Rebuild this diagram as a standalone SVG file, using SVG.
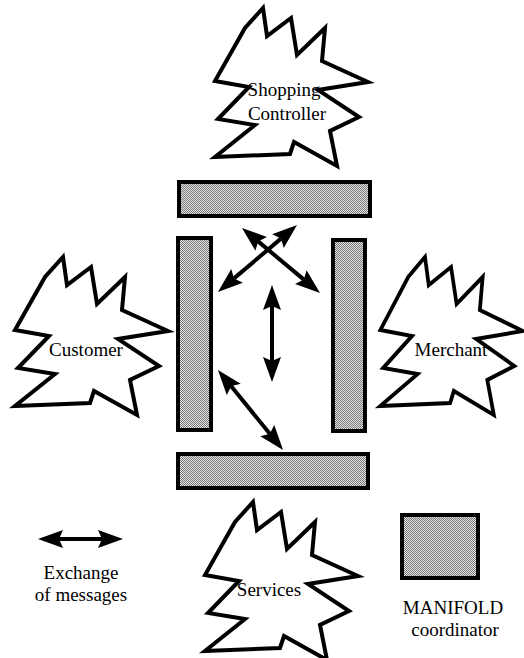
<svg xmlns="http://www.w3.org/2000/svg" xmlns:xlink="http://www.w3.org/1999/xlink" width="524" height="658" viewBox="0 0 524 658">
<style>
.star{fill:#fff;stroke:#000;stroke-width:4;stroke-linejoin:miter;stroke-miterlimit:10}
.bar{fill:url(#dither);stroke:#000;stroke-width:4}
.lbl{font-family:"Liberation Serif","Times New Roman","DejaVu Serif",serif;font-size:19px;fill:#000;text-anchor:middle}
.arr{stroke:#000;stroke-width:4;fill:none;marker-start:url(#head);marker-end:url(#head)}
</style>
<defs>
<pattern id="dither" width="2" height="2" patternUnits="userSpaceOnUse">
<rect width="2" height="2" fill="#e2e2e2"/>
<rect width="1" height="1" fill="#7a7a7a"/>
<rect x="1" y="1" width="1" height="1" fill="#7a7a7a"/>
</pattern>
<path id="starShape" d="M0,0 L4,28 L28,10 L34,47 L62,20 L59,53 L105,74 L55,82 L96,109 L67,123 L74,158 L31,134 L27,146 L-48,149 L-8,117 L-45,111 L-14,79 L-48,73 L-18,20 Z"/>
<marker id="head" markerUnits="userSpaceOnUse" markerWidth="30" markerHeight="22" viewBox="0 -11 30 22" refX="4" refY="0" orient="auto-start-reverse" overflow="visible">
<path d="M0,-9 L25,0 L0,9 L4,0 Z" fill="#000"/>
</marker>
</defs>
<rect width="524" height="658" fill="#fff"/>

<g id="shopping-controller">
<use xlink:href="#starShape" href="#starShape" class="star" transform="translate(263,8)"/>
<text class="lbl" x="284" y="96">Shopping</text>
<text class="lbl" x="287" y="120">Controller</text>
</g>

<g id="customer">
<use xlink:href="#starShape" href="#starShape" class="star" transform="translate(63,257)"/>
<text class="lbl" x="86" y="356">Customer</text>
</g>

<g id="merchant">
<use xlink:href="#starShape" href="#starShape" class="star" transform="translate(425,257) scale(0.93,1)"/>
<text class="lbl" x="451" y="356">Merchant</text>
</g>

<g id="services">
<use xlink:href="#starShape" href="#starShape" class="star" transform="translate(253,502)"/>
<text class="lbl" x="269" y="596">Services</text>
</g>

<g id="coordinator-top"><rect class="bar" x="179" y="182" width="191" height="34"/></g>
<g id="coordinator-left"><rect class="bar" x="178" y="238" width="33" height="192"/></g>
<g id="coordinator-right"><rect class="bar" x="333" y="240" width="32" height="191"/></g>
<g id="coordinator-bottom"><rect class="bar" x="178" y="454" width="190" height="34"/></g>

<g id="connectors">
<line class="arr" x1="234" y1="278.4" x2="281" y2="238.6"/>
<line class="arr" x1="258.1" y1="241.4" x2="303.9" y2="279.6"/>
<line class="arr" x1="272" y1="306" x2="272" y2="361"/>
<line class="arr" x1="231.2" y1="386.3" x2="269.8" y2="433.7"/>
</g>

<g id="legend-exchange">
<line class="arr" x1="59" y1="539" x2="102" y2="539"/>
<text class="lbl" x="81" y="579">Exchange</text>
<text class="lbl" x="81" y="601">of messages</text>
</g>

<g id="legend-manifold">
<rect class="bar" x="402" y="515" width="76" height="63"/>
<text class="lbl" x="453" y="614">MANIFOLD</text>
<text class="lbl" x="455" y="636">coordinator</text>
</g>
</svg>
